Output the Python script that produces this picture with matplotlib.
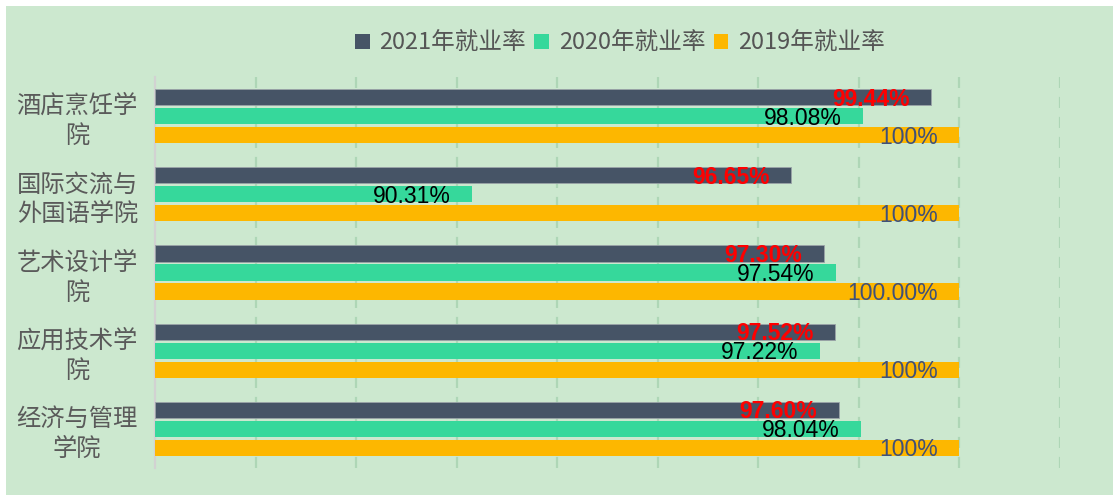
import numpy as np
import matplotlib.pyplot as plt
from matplotlib.patches import Patch, Rectangle

plt.rcParams['font.family'] = ['Noto Sans CJK SC', 'DejaVu Sans']

# Data
colleges = ['酒店烹饪学\n院', '国际交流与\n外国语学院', '艺术设计学\n院', '应用技术学\n院', '经济与管理\n学院']
series_names = ['2021年就业率', '2020年就业率', '2019年就业率']
rate_2021 = [99.44, 96.65, 97.30, 97.52, 97.60]
rate_2020 = [98.08, 90.31, 97.54, 97.22, 98.04]
rate_2019 = [100, 100, 100, 100, 100]
labels_2019 = ['100%', '100%', '100.00%', '100%', '100%']

colors = ['#465466', '#36D89B', '#FDB700']
bg = '#CCE8CF'

fig = plt.figure(figsize=(11.13, 4.95), dpi=100, facecolor='white')
# green panel with thin white strip on top/left
fig.patches.append(Rectangle((6 / 1113, 0), 1, 1 - 6 / 495, transform=fig.transFigure,
                             facecolor=bg, edgecolor='none', zorder=-10))

ax = fig.add_axes([155 / 1113, 1 - 468 / 495, (1060 - 155) / 1113, (468 - 77) / 495])
ax.set_facecolor('none')

y = np.arange(len(colleges))
h = 0.205
step = 0.243
xmin = 84

series = [rate_2021, rate_2020, rate_2019]
for i, vals in enumerate(series):
    vals = np.array(vals, dtype=float)
    ax.barh(y + (i - 1) * step, vals - xmin, left=xmin, height=h, color=colors[i],
            edgecolor='#9aa3a8' if i == 0 else 'none', linewidth=0.6, zorder=3)

# value labels, inside right end
label_sets = [
    ([f'{v:.2f}%' for v in rate_2021], rate_2021, '#FF0000', 'bold'),
    ([f'{v:.2f}%' for v in rate_2020], rate_2020, '#000000', 'normal'),
    (labels_2019, rate_2019, '#3F5079', 'normal'),
]
for i, (texts, vals, col, fw) in enumerate(label_sets):
    for j, (t, v) in enumerate(zip(texts, vals)):
        ax.annotate(t, xy=(v, y[j] + (i - 1) * step), xytext=(-15.5, -1.5),
                    textcoords='offset points', ha='right', va='center',
                    fontsize=16.5, color=col, fontweight=fw,
                    family=['Liberation Sans', 'DejaVu Sans'], zorder=5)

ax.set_xlim(xmin, 102)
ax.set_ylim(len(colleges) - 0.5, -0.5)
ax.set_xticks(np.arange(86, 103, 2))
ax.xaxis.grid(True, color='#AED6B6', linestyle=(0, (5, 4)), linewidth=1.6, zorder=0)
ax.tick_params(axis='x', length=0, labelbottom=False)
ax.set_yticks(y)
ax.set_yticklabels(colleges, fontsize=17.5, color='#5A5A5A', ha='center',
                   multialignment='center', linespacing=1.2)
ax.tick_params(axis='y', length=0, pad=56)
for s in ['top', 'right', 'bottom']:
    ax.spines[s].set_visible(False)
ax.spines['left'].set_color('#D2D2D2')
ax.spines['left'].set_linewidth(1.6)

handles = [Patch(facecolor=c, edgecolor='none') for c in colors]
fig.legend(handles, series_names, loc='center', bbox_to_anchor=(620 / 1113, 1 - 43 / 495),
           ncol=3, frameon=False, fontsize=17, labelcolor='#555555',
           handlelength=0.62, handleheight=0.62, handletextpad=0.42, columnspacing=0.35,
           borderpad=0, borderaxespad=0)

fig.savefig('out.png', dpi=100, facecolor='white')
